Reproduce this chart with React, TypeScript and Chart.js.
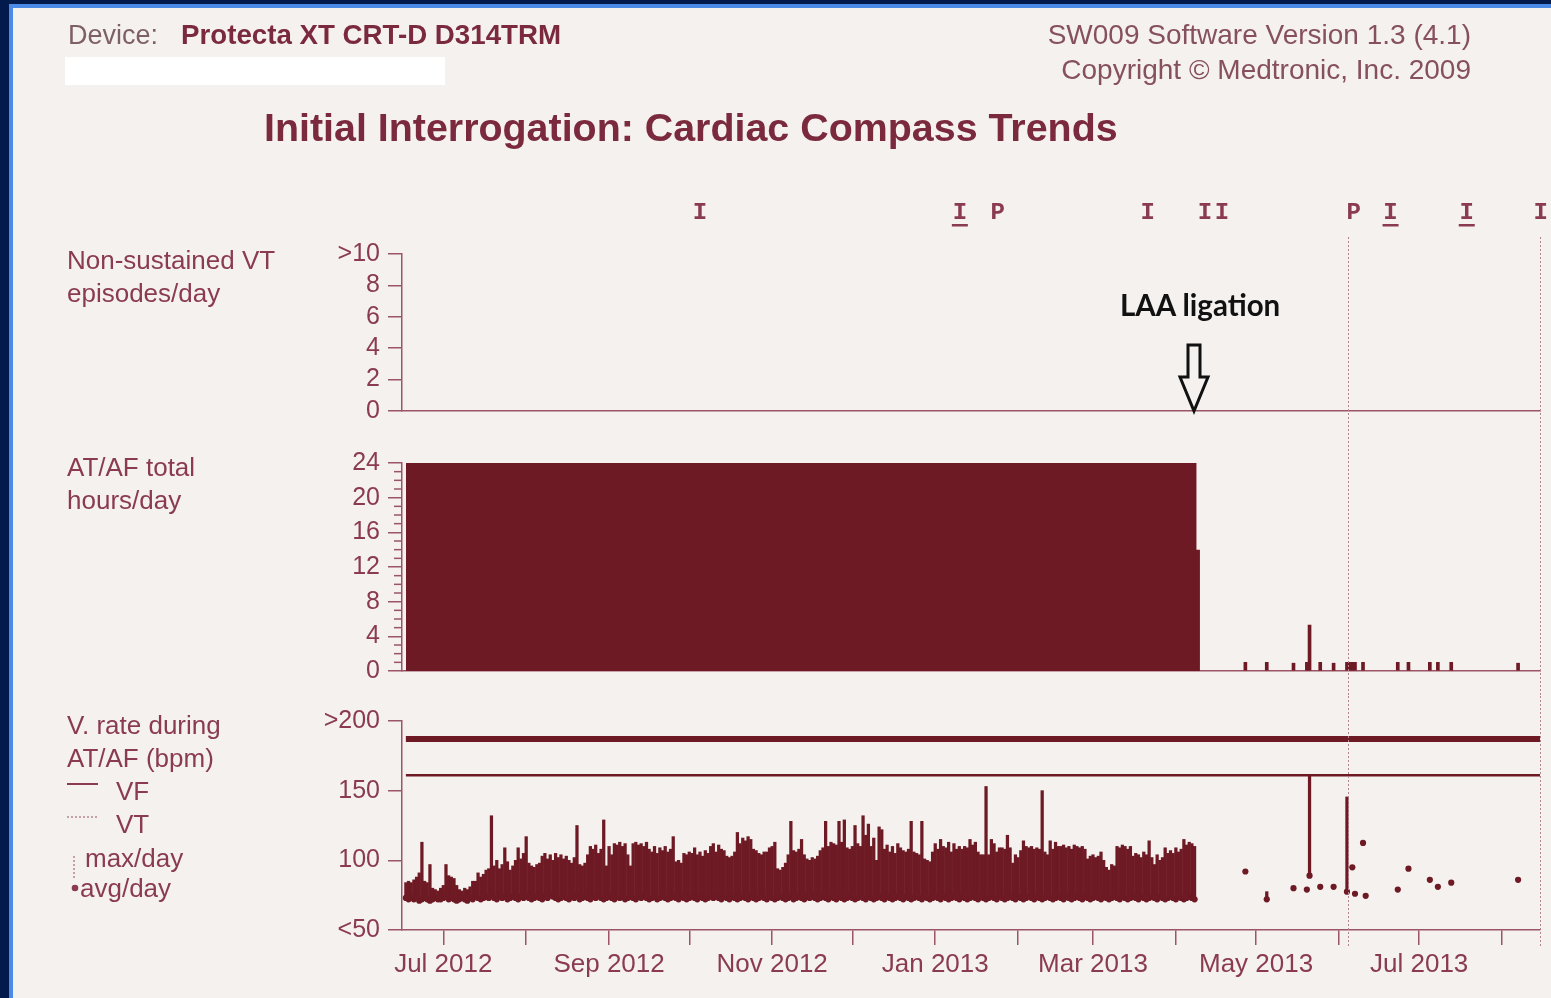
import React, { useEffect, useRef } from 'react';
import { Chart, registerables } from 'chart.js';

Chart.register(...registerables);

// ---------- shared x axis (days since 1 Jul 2012) ----------
const xMinDay = -15.45;
const xMaxDay = 410.2;
const monthTickDays = [0, 31, 62, 92, 123, 153, 184, 215, 243, 274, 304, 335, 365, 396];
const monthTickLabels = ['Jul 2012', '', 'Sep 2012', '', 'Nov 2012', '', 'Jan 2013', '', 'Mar 2013', '', 'May 2013', '', 'Jul 2013', ''];

// session markers along the top
const markerDays = [96.0, 193.2, 207.4, 263.5, 284.9, 291.2, 340.5, 354.3, 382.8, 410.5];
const markerLabels = ['I', 'I', 'P', 'I', 'I', 'I', 'P', 'I', 'I', 'I'];
const markerUnderlined = [false, true, false, false, false, false, false, true, true, false];
const sessionLineDays = [338.2, 410.2];

// ---------- panel 1: non-sustained VT episodes/day ----------
const nsvtTickValues = [0, 2, 4, 6, 8, 10];
const nsvtTickLabels = ['0', '2', '4', '6', '8', '>10'];
const nsvtDays: number[] = [];
const nsvtCounts: number[] = [];

// ---------- panel 2: AT/AF total hours/day ----------
const afTickValues = [0, 4, 8, 12, 16, 20, 24];
const afTickLabels = ['0', '4', '8', '12', '16', '20', '24'];
// persistent AF: 24 h/day from day -14, 14 h on the ligation day, then 0
const afBlockDays = [-14, 281.7, 283];
const afBlockHours = [24, 14, 0];
// short AT/AF episodes after ligation
const afPostDays = [300, 308, 318, 323, 324, 328, 333, 338, 339, 340, 341, 344, 357, 361, 369, 372, 377, 402];
const afPostHours = [1, 1, 0.9, 1, 5.3, 1, 0.9, 1, 1, 1, 1, 1, 1, 1, 1, 1, 1, 0.9];

// ---------- panel 3: V. rate during AT/AF (bpm) ----------
const vrateTickValues = [50, 100, 150, 200];
const vrateTickLabels = ['<50', '100', '150', '>200'];
const vfZoneRate = 187;
const vtZoneRate = 161;
const zoneStartDay = -14;
const vrateFirstDay = -14; // first day of the daily arrays below
const vrateMaxPerDay = [
  84, 85, 84, 86, 88, 91, 113, 85, 84, 97, 80, 79, 78, 80, 82, 97, 89, 88, 87, 82,
  79, 78, 80, 79, 81, 85, 85, 91, 88, 90, 93, 94, 132, 96, 100, 94, 97, 109, 99, 93,
  96, 100, 109, 101, 105, 117, 98, 96, 95, 97, 98, 103, 105, 101, 104, 100, 105, 102, 104, 101,
  103, 100, 98, 102, 125, 97, 96, 98, 104, 110, 108, 111, 105, 108, 129, 96, 110, 104, 112, 111,
  113, 110, 112, 104, 96, 112, 113, 111, 112, 110, 113, 108, 106, 110, 105, 109, 107, 110, 106, 108,
  117, 99, 100, 98, 105, 104, 106, 105, 109, 104, 106, 103, 107, 105, 110, 112, 106, 111, 108, 107,
  103, 102, 103, 106, 120, 112, 116, 114, 117, 115, 108, 107, 105, 104, 106, 106, 109, 110, 113, 94,
  93, 95, 98, 104, 128, 107, 106, 108, 115, 104, 101, 100, 102, 101, 103, 107, 109, 128, 110, 113,
  112, 111, 128, 113, 129, 109, 108, 110, 125, 112, 110, 132, 118, 126, 110, 116, 100, 124, 122, 108,
  111, 106, 110, 105, 112, 109, 107, 106, 108, 128, 106, 105, 104, 128, 101, 100, 99, 106, 112, 108,
  115, 110, 109, 113, 106, 112, 108, 110, 108, 110, 109, 115, 111, 113, 106, 104, 104, 153, 104, 115,
  112, 106, 109, 109, 108, 118, 109, 98, 104, 102, 107, 114, 110, 109, 110, 108, 109, 108, 150, 106,
  104, 114, 108, 113, 110, 110, 111, 109, 110, 108, 111, 110, 109, 110, 108, 101, 103, 104, 102, 103,
  106, 100, 95, 93, 97, 96, 110, 109, 111, 110, 108, 110, 103, 105, 104, 102, 106, 104, 114, 102,
  97, 104, 100, 102, 109, 105, 107, 105, 109, 106, 108, 115, 111, 113, 112, 110,
];
const vrateAvgPerDay = [
  73, 72, 74, 72, 73, 71, 72, 73, 72, 71, 72, 73, 72, 72, 73, 74, 72, 73, 72, 71,
  72, 73, 72, 71, 73, 72, 74, 73, 72, 73, 74, 73, 75, 73, 72, 74, 73, 74, 72, 73,
  74, 73, 72, 74, 73, 75, 73, 72, 73, 74, 73, 72, 74, 73, 75, 74, 73, 72, 73, 74,
  73, 72, 74, 73, 75, 72, 73, 74, 73, 72, 74, 73, 75, 73, 72, 73, 74, 73, 72, 74,
  73, 74, 72, 73, 74, 73, 72, 74, 73, 75, 73, 72, 73, 74, 72, 73, 74, 73, 72, 73,
  74, 73, 72, 74, 73, 72, 73, 74, 73, 72, 74, 73, 72, 73, 74, 73, 75, 73, 72, 74,
  73, 72, 74, 73, 72, 73, 74, 73, 72, 74, 73, 72, 73, 74, 73, 72, 74, 73, 72, 73,
  74, 73, 72, 73, 74, 72, 73, 74, 73, 72, 74, 73, 75, 73, 72, 73, 74, 73, 72, 74,
  73, 72, 74, 73, 72, 73, 74, 73, 72, 73, 74, 73, 72, 74, 73, 72, 73, 74, 73, 72,
  74, 73, 72, 73, 74, 73, 72, 74, 73, 72, 73, 74, 73, 72, 74, 73, 72, 73, 74, 73,
  72, 74, 73, 72, 73, 74, 73, 72, 74, 73, 72, 73, 74, 73, 72, 74, 73, 72, 73, 74,
  73, 72, 74, 73, 72, 73, 74, 73, 72, 74, 73, 72, 73, 74, 73, 72, 74, 73, 72, 73,
  74, 73, 72, 73, 74, 73, 72, 74, 73, 72, 73, 74, 73, 72, 74, 73, 72, 73, 74, 73,
  72, 74, 73, 72, 73, 74, 73, 72, 74, 73, 72, 73, 74, 73, 72, 74, 73, 72, 73, 74,
  73, 72, 74, 73, 72, 73, 74, 73, 72, 74, 73, 72, 73, 74, 73, 72,
];
const vratePostDays = [300, 308, 318, 323, 324, 328, 333, 338, 340, 341, 344, 345, 357, 361, 369, 372, 377, 402];
const vratePostAvg = [92, 72, 80, 79, 89, 81, 81, 77.5, 95, 76, 112.5, 74.5, 79, 94, 86, 81, 84, 86];
const vratePostMax: (number | null)[] = [null, 77.5, null, null, 161, null, null, 145.5, null, null, null, null, null, null, null, null, null, null];

// ---------- styles ----------
const FONT = "'Liberation Sans', Arial, Helvetica, sans-serif";
const MARK = '#6e1a24';
const AXIS = '#9c5567';
const TEXT = '#8a3b50';
const TITLE = '#7b2a3e';
const PAPER = '#f4f1ef';
const W = 1551;

const sessionLinesPlugin = {
  id: 'sessionLines',
  afterDatasetsDraw(chart: any, _args: any, opts: any) {
    const xs = chart.scales.x;
    const ctx = chart.ctx;
    ctx.save();
    ctx.strokeStyle = '#b48591';
    ctx.lineWidth = 1;
    ctx.setLineDash([2, 2]);
    for (const d of sessionLineDays) {
      const px = Math.round(xs.getPixelForValue(d)) + 0.5;
      ctx.beginPath();
      ctx.moveTo(px, opts.top ?? 0);
      ctx.lineTo(px, opts.bottom ?? chart.height);
      ctx.stroke();
    }
    ctx.restore();
  },
};

const markersPlugin = {
  id: 'sessionMarkers',
  afterDraw(chart: any) {
    const xs = chart.scales.x;
    const ctx = chart.ctx;
    ctx.save();
    ctx.fillStyle = TEXT;
    ctx.font = "bold 24px 'Liberation Mono', 'DejaVu Sans Mono', monospace";
    ctx.textAlign = 'center';
    ctx.textBaseline = 'alphabetic';
    markerDays.forEach((d, i) => {
      const px = xs.getPixelForValue(d);
      ctx.fillText(markerLabels[i], px, 29);
      if (markerUnderlined[i]) ctx.fillRect(px - 8, 34, 16, 2.5);
    });
    ctx.restore();
  },
};

const minorTicksPlugin = {
  id: 'minorTicks',
  afterDraw(chart: any) {
    const ys = chart.scales.y;
    const ctx = chart.ctx;
    ctx.save();
    ctx.strokeStyle = AXIS;
    ctx.lineWidth = 1.5;
    for (let v = 0; v <= 24; v++) {
      if (v % 4 === 0) continue;
      const py = ys.getPixelForValue(v);
      ctx.beginPath();
      ctx.moveTo(ys.right - 8, py);
      ctx.lineTo(ys.right, py);
      ctx.stroke();
    }
    ctx.restore();
  },
};

function yScale(min: number, max: number, values: number[], labels: string[]) {
  return {
    type: 'linear',
    min,
    max,
    afterFit: (s: any) => { s.width = 402; },
    afterBuildTicks: (s: any) => { s.ticks = values.map((v) => ({ value: v })); },
    ticks: {
      autoSkip: false,
      padding: 8,
      color: TEXT,
      font: { family: FONT, size: 25 },
      callback: (_v: any, i: number) => labels[i],
    },
    grid: { drawOnChartArea: false, drawTicks: true, tickLength: 14, color: AXIS, lineWidth: 1.5 },
    border: { display: true, color: AXIS, width: 1.5 },
  };
}

function xHidden() {
  return {
    type: 'linear',
    min: xMinDay,
    max: xMaxDay,
    offset: false,
    afterFit: (s: any) => { s.height = 0; },
    ticks: { display: false },
    grid: { display: false, offset: false },
    border: { display: true, color: AXIS, width: 1.5 },
  };
}

const baseOptions = {
  animation: false,
  responsive: false,
  devicePixelRatio: 1,
  events: [],
};

export default function App() {
  const aRef = useRef<HTMLCanvasElement>(null);
  const bRef = useRef<HTMLCanvasElement>(null);
  const cRef = useRef<HTMLCanvasElement>(null);

  useEffect(() => {
    const charts: Chart[] = [];

    charts.push(new Chart(aRef.current as HTMLCanvasElement, {
      type: 'line',
      data: {
        datasets: [{
          data: nsvtDays.map((d, i) => ({ x: d, y: nsvtCounts[i] })),
          borderColor: MARK,
          pointRadius: 0,
        }],
      },
      options: {
        ...baseOptions,
        layout: { padding: { left: 0, right: 11, top: 64, bottom: 26 } },
        plugins: { legend: { display: false }, tooltip: { enabled: false }, sessionLines: { top: 47 } },
        scales: { x: xHidden(), y: yScale(0, 10, nsvtTickValues, nsvtTickLabels) },
      } as any,
      plugins: [sessionLinesPlugin, markersPlugin],
    } as any));

    charts.push(new Chart(bRef.current as HTMLCanvasElement, {
      type: 'line',
      data: {
        datasets: [
          {
            type: 'line',
            data: afBlockDays.map((d, i) => ({ x: d, y: afBlockHours[i] })),
            stepped: 'before',
            fill: 'origin',
            backgroundColor: MARK,
            borderColor: MARK,
            borderWidth: 0,
            pointRadius: 0,
          },
          {
            type: 'bar',
            data: afPostDays.map((d, i) => ({ x: d, y: afPostHours[i] })),
            backgroundColor: MARK,
            barThickness: 3,
            grouped: false,
            borderWidth: 0,
          },
        ],
      },
      options: {
        ...baseOptions,
        layout: { padding: { left: 0, right: 11, top: 26, bottom: 25 } },
        plugins: { legend: { display: false }, tooltip: { enabled: false }, sessionLines: {} },
        scales: { x: xHidden(), y: yScale(0, 24, afTickValues, afTickLabels) },
      } as any,
      plugins: [sessionLinesPlugin, minorTicksPlugin],
    } as any));

    const maxBars: any[] = [];
    const avgPts: any[] = [];
    vrateMaxPerDay.forEach((m, i) => {
      const day = vrateFirstDay + i;
      maxBars.push({ x: day, y: [vrateAvgPerDay[i], m] });
      avgPts.push({ x: day, y: vrateAvgPerDay[i] });
    });
    vratePostDays.forEach((d, i) => {
      const m = vratePostMax[i];
      if (m !== null) maxBars.push({ x: d, y: [vratePostAvg[i], m] });
      avgPts.push({ x: d, y: vratePostAvg[i] });
    });

    charts.push(new Chart(cRef.current as HTMLCanvasElement, {
      type: 'line',
      data: {
        datasets: [
          {
            type: 'line',
            data: [{ x: zoneStartDay, y: vfZoneRate }, { x: xMaxDay, y: vfZoneRate }],
            borderColor: MARK,
            borderWidth: 6,
            pointRadius: 0,
          },
          {
            type: 'line',
            data: [{ x: zoneStartDay, y: vtZoneRate }, { x: xMaxDay, y: vtZoneRate }],
            borderColor: MARK,
            borderWidth: 2.5,
            pointRadius: 0,
          },
          {
            type: 'bar',
            data: maxBars,
            backgroundColor: MARK,
            barThickness: 2.6,
            grouped: false,
            borderWidth: 0,
          },
          {
            type: 'scatter',
            data: avgPts,
            pointRadius: 3.1,
            backgroundColor: MARK,
            borderWidth: 0,
            showLine: false,
          },
        ],
      },
      options: {
        ...baseOptions,
        layout: { padding: { left: 0, right: 11, top: 25, bottom: 0 } },
        plugins: { legend: { display: false }, tooltip: { enabled: false }, sessionLines: { bottom: 250 } },
        scales: {
          x: {
            type: 'linear',
            min: xMinDay,
            max: xMaxDay,
            offset: false,
            afterBuildTicks: (s: any) => { s.ticks = monthTickDays.map((v) => ({ value: v })); },
            afterFit: (s: any) => { s.height = 68; },
            ticks: {
              autoSkip: false,
              maxRotation: 0,
              minRotation: 0,
              padding: 4,
              color: TEXT,
              font: { family: FONT, size: 26 },
              callback: (_v: any, i: number) => monthTickLabels[i],
            },
            grid: { drawOnChartArea: false, drawTicks: true, tickLength: 15, color: AXIS, lineWidth: 1.5, offset: false },
            border: { display: true, color: AXIS, width: 1.5 },
          },
          y: yScale(50, 200, vrateTickValues, vrateTickLabels),
        },
      } as any,
      plugins: [sessionLinesPlugin],
    } as any));

    return () => charts.forEach((c) => c.destroy());
  }, []);

  const canvasStyle = (top: number, h: number): React.CSSProperties => ({
    position: 'absolute', left: 0, top, width: W, height: h, display: 'block',
  });

  return (
    <div style={{ position: 'fixed', left: 0, top: 0, width: W, height: 998, overflow: 'hidden', background: '#021a4c' }}>
      <div style={{ position: 'absolute', left: 9, top: 4, right: 0, bottom: 0, background: '#4b8ae6' }} />
      <div style={{ position: 'absolute', left: 13, top: 8, right: 0, bottom: 0, background: PAPER }} />
      <canvas ref={aRef} width={W} height={247} style={canvasStyle(190, 247)} />
      <canvas ref={bRef} width={W} height={259} style={canvasStyle(437, 259)} />
      <canvas ref={cRef} width={W} height={302} style={canvasStyle(696, 302)} />
      <svg width={W} height={998} style={{ position: 'absolute', left: 0, top: 0, pointerEvents: 'none' }} fontFamily={FONT}>
        <rect x={65} y={57} width={380} height={28} fill="#ffffff" />
        <text x={68} y={44} fontSize={27} fill="#7e5f67">Device:</text>
        <text x={181} y={44} fontSize={27.7} fontWeight="bold" fill={TITLE}>Protecta XT CRT-D D314TRM</text>
        <text x={1471} y={44} fontSize={28} textAnchor="end" fill="#86505f">SW009 Software Version 1.3 (4.1)</text>
        <text x={1471} y={79} fontSize={28} textAnchor="end" fill="#86505f">Copyright © Medtronic, Inc. 2009</text>
        <text x={264} y={141} fontSize={39.4} fontWeight="bold" fill={TITLE}>Initial Interrogation: Cardiac Compass Trends</text>

        <text x={67} y={269} fontSize={26} fill={TEXT}>Non-sustained VT</text>
        <text x={67} y={302} fontSize={26} fill={TEXT}>episodes/day</text>
        <text x={67} y={476} fontSize={26} fill={TEXT}>AT/AF total</text>
        <text x={67} y={509} fontSize={26} fill={TEXT}>hours/day</text>
        <text x={67} y={734} fontSize={26} fill={TEXT}>V. rate during</text>
        <text x={67} y={767} fontSize={26} fill={TEXT}>AT/AF (bpm)</text>
        <line x1={67} y1={784} x2={98} y2={784} stroke={TEXT} strokeWidth={2} />
        <text x={116} y={800} fontSize={26} fill={TEXT}>VF</text>
        <line x1={67} y1={817} x2={98} y2={817} stroke="#b48591" strokeWidth={1.5} strokeDasharray="2 2" />
        <text x={116} y={833} fontSize={26} fill={TEXT}>VT</text>
        <line x1={74} y1={856} x2={74} y2={880} stroke="#b48591" strokeWidth={1.5} strokeDasharray="2 2" />
        <text x={85} y={867} fontSize={26} fill={TEXT}>max/day</text>
        <circle cx={75} cy={888} r={3.3} fill={TEXT} />
        <text x={80} y={897} fontSize={26} fill={TEXT}>avg/day</text>

        <text x={1120} y={316} fontSize={29.5} fontWeight="bold" fontFamily="Lato, 'Open Sans', sans-serif" fill="#111111">LAA ligation</text>
        <path d="M1188,345 H1200 V377 H1208 L1194,411 L1180,377 H1188 Z" fill="none" stroke="#111111" strokeWidth={3} strokeLinejoin="miter" />
      </svg>
    </div>
  );
}
